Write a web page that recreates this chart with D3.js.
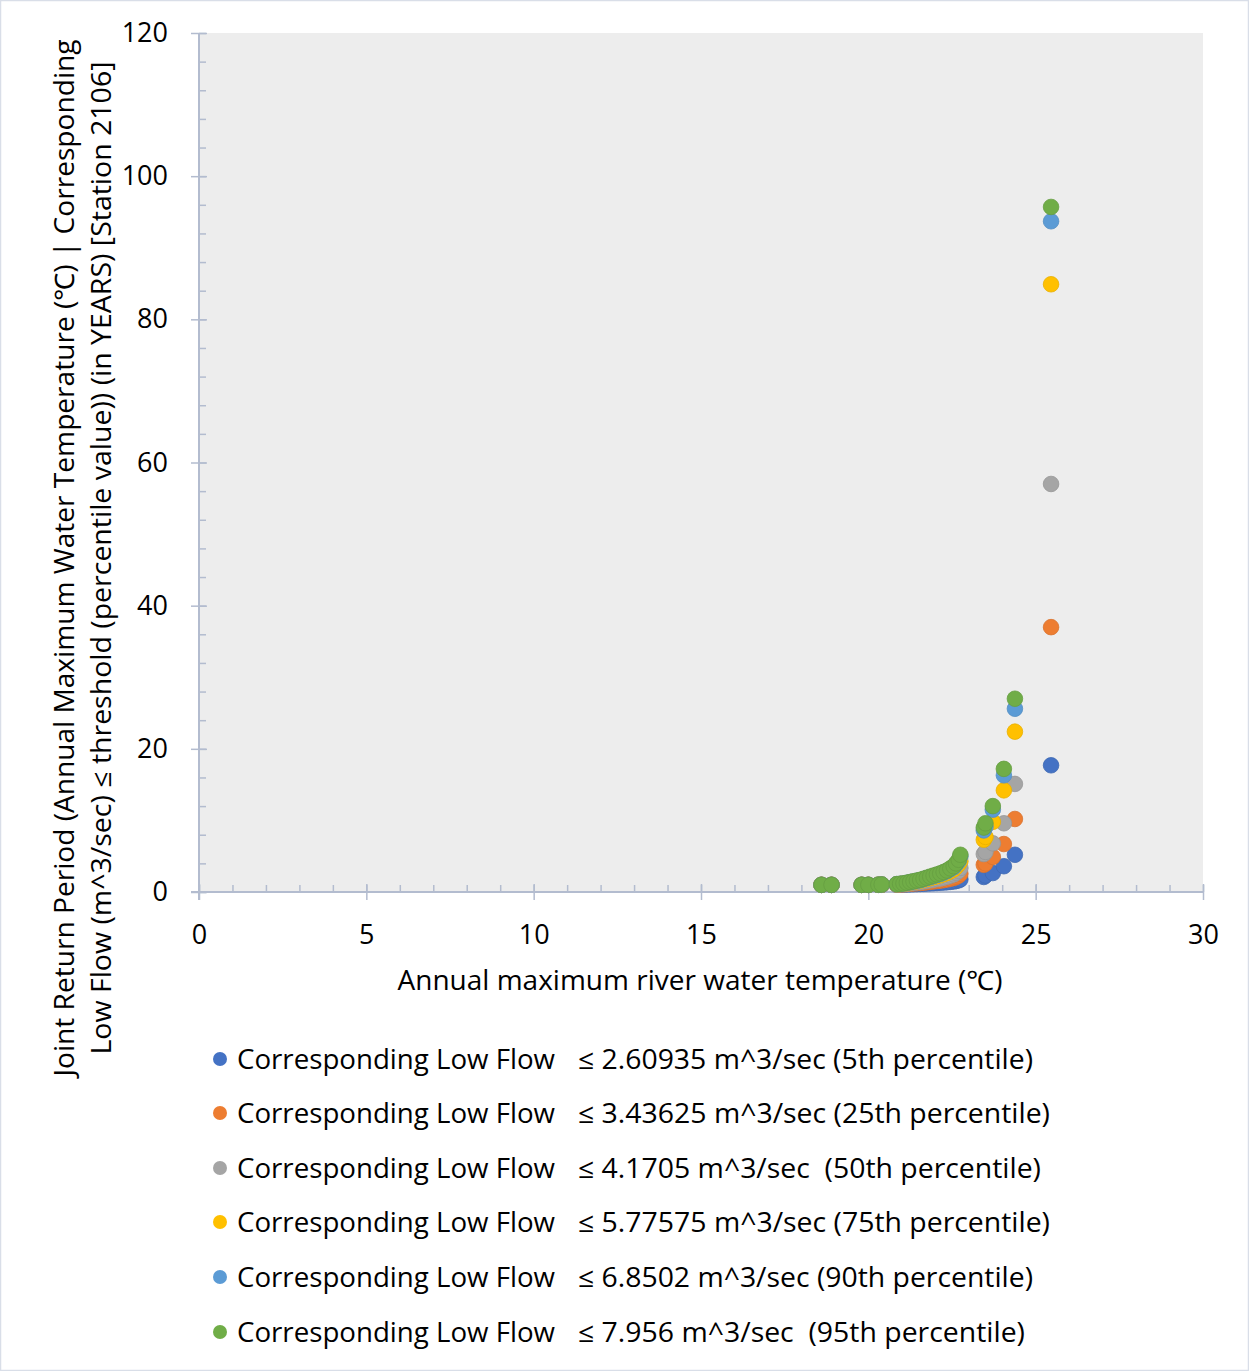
<!DOCTYPE html>
<html>
<head>
<meta charset="utf-8">
<script src="https://cdn.jsdelivr.net/npm/d3@7"></script>
<style>
  html, body { margin: 0; padding: 0; background: #fff; }
  svg { display: block; }
  text { font-family: "Open Sans", "Noto Sans", sans-serif; fill: #000; }
</style>
</head>
<body>
<svg id="chart" width="1249" height="1371"></svg>
<script>
// ---- data ----
const temps = [18.6, 18.9, 19.8, 20.0, 20.3, 20.4, 20.85, 20.95, 21.05, 21.15, 21.25, 21.35, 21.45, 21.55, 21.65, 21.75, 21.85, 21.95, 22.05, 22.15, 22.25, 22.35, 22.45, 22.55, 22.62, 22.7, 22.75, 23.45, 23.5, 23.72, 24.05, 24.38, 25.46];

const p5  = [1.0, 1.0, 1.0, 1.0, 1.0, 1.01, 1.02, 1.03, 1.04, 1.05, 1.07, 1.09, 1.11, 1.13, 1.15, 1.18, 1.21, 1.23, 1.26, 1.29, 1.32, 1.36, 1.41, 1.47, 1.54, 1.63, 1.76, 2.1, 2.3, 2.65, 3.6, 5.2, 17.7];
const p25 = [1.0, 1.0, 1.0, 1.0, 1.01, 1.02, 1.04, 1.06, 1.07, 1.11, 1.15, 1.19, 1.22, 1.26, 1.31, 1.37, 1.42, 1.48, 1.54, 1.59, 1.67, 1.74, 1.85, 1.96, 2.11, 2.3, 2.55, 3.8, 4.0, 4.9, 6.7, 10.2, 37.0];
const p50 = [1.0, 1.0, 1.0, 1.0, 1.01, 1.03, 1.06, 1.08, 1.11, 1.17, 1.22, 1.28, 1.34, 1.39, 1.48, 1.56, 1.64, 1.73, 1.81, 1.9, 2.0, 2.12, 2.29, 2.46, 2.68, 2.96, 3.35, 5.3, 5.6, 6.8, 9.6, 15.1, 57.0];
const p75 = [1.0, 1.0, 1.0, 1.0, 1.02, 1.04, 1.08, 1.12, 1.17, 1.25, 1.33, 1.42, 1.5, 1.58, 1.71, 1.83, 1.95, 2.08, 2.2, 2.33, 2.49, 2.66, 2.91, 3.16, 3.49, 3.9, 4.3, 7.3, 7.7, 9.8, 14.2, 22.4, 84.9];
const p90 = [1.0, 1.0, 1.0, 1.0, 1.02, 1.05, 1.1, 1.14, 1.19, 1.28, 1.38, 1.47, 1.57, 1.66, 1.81, 1.95, 2.09, 2.23, 2.38, 2.52, 2.71, 2.9, 3.18, 3.47, 3.85, 4.32, 4.99, 8.6, 9.1, 11.5, 16.3, 25.6, 93.7];
const p95 = [1.0, 1.0, 1.0, 1.0, 1.02, 1.05, 1.1, 1.15, 1.2, 1.3, 1.4, 1.5, 1.6, 1.7, 1.85, 2.0, 2.15, 2.3, 2.45, 2.6, 2.8, 3.0, 3.3, 3.6, 4.0, 4.5, 5.2, 9.0, 9.6, 12.0, 17.2, 27.0, 95.7];

const seriesNames = ["Corresponding Low Flow", "Corresponding Low Flow", "Corresponding Low Flow", "Corresponding Low Flow", "Corresponding Low Flow", "Corresponding Low Flow"];
const seriesThresholds = ["≤ 2.60935 m^3/sec (5th percentile)", "≤ 3.43625 m^3/sec (25th percentile)", "≤ 4.1705 m^3/sec  (50th percentile)", "≤ 5.77575 m^3/sec (75th percentile)", "≤ 6.8502 m^3/sec (90th percentile)", "≤ 7.956 m^3/sec  (95th percentile)"];
const seriesColors = ["#4472C4", "#ED7D31", "#A5A5A5", "#FFC000", "#5B9BD5", "#70AD47"];
const seriesValues = [p5, p25, p50, p75, p90, p95];

const xTicks = [0, 5, 10, 15, 20, 25, 30];
const xMinorTicks = d3.range(0, 31, 1);
const yTicks = [0, 20, 40, 60, 80, 100, 120];
const yMinorTicks = d3.range(0, 121, 4);

const xTitle = "Annual maximum river water temperature (℃)";
const yTitle1 = "Joint Return Period (Annual Maximum Water Temperature (℃) | Corresponding";
const yTitle2 = "Low Flow (m^3/sec) ≤ threshold (percentile value)) (in YEARS) [Station 2106]";

// ---- layout ----
const svg = d3.select("#chart");
const W = 1249, H = 1371;
const L = 199, R = 1203, T = 33, B = 892;
const axisColor = "#b3bccf";

svg.append("rect").attr("x", 0.5).attr("y", 0.5).attr("width", W - 1).attr("height", H - 1)
  .attr("fill", "#fff").attr("stroke", "#d9dee8").attr("stroke-width", 1.5);

const x = d3.scaleLinear().domain([0, 30]).range([L, R]);
const y = d3.scaleLinear().domain([0, 120]).range([B, T]);

svg.append("rect").attr("x", L).attr("y", T).attr("width", R - L).attr("height", B - T).attr("fill", "#ededed");

// inner minor ticks
svg.append("g").attr("transform", `translate(${L},0)`)
  .call(d3.axisRight(y).tickValues(yMinorTicks).tickSize(7).tickFormat(""));
svg.append("g").attr("transform", `translate(0,${B})`)
  .call(d3.axisTop(x).tickValues(xMinorTicks).tickSize(7).tickFormat(""));
// outer major ticks with labels
const yAxis = svg.append("g").attr("transform", `translate(${L},0)`)
  .call(d3.axisLeft(y).tickValues(yTicks).tickSize(8).tickPadding(23).tickFormat(d3.format("d")));
const xAxis = svg.append("g").attr("transform", `translate(0,${B})`)
  .call(d3.axisBottom(x).tickValues(xTicks).tickSize(8).tickPadding(25).tickFormat(d3.format("d")));
// major inside part
svg.append("g").attr("transform", `translate(${L},0)`)
  .call(d3.axisRight(y).tickValues(yTicks).tickSize(8).tickFormat(""));
svg.append("g").attr("transform", `translate(0,${B})`)
  .call(d3.axisTop(x).tickValues(xTicks).tickSize(8).tickFormat(""));

svg.selectAll(".domain").remove();
svg.selectAll(".tick line").attr("stroke", axisColor).attr("stroke-width", 1.5);
// axis lines
svg.append("line").attr("x1", L).attr("x2", L).attr("y1", T).attr("y2", B + 8).attr("stroke", axisColor).attr("stroke-width", 2);
svg.append("line").attr("x1", L - 8).attr("x2", R).attr("y1", B).attr("y2", B).attr("stroke", axisColor).attr("stroke-width", 2);

yAxis.selectAll("text").attr("font-size", 27).attr("fill", "#000").attr("font-family", "Open Sans");
xAxis.selectAll("text").attr("font-size", 27).attr("fill", "#000").attr("font-family", "Open Sans");

// ---- points ----
const radius = 7.8;
seriesValues.forEach((vals, si) => {
  const pts = temps.map((t, i) => ({ t, v: vals[i] }));
  svg.append("g").selectAll("circle").data(pts).join("circle")
    .attr("cx", d => x(d.t)).attr("cy", d => y(d.v)).attr("r", radius)
    .attr("fill", seriesColors[si])
    .attr("stroke", d3.color(seriesColors[si]).darker(0.25))
    .attr("stroke-width", 0.8);
});

// ---- titles ----
svg.append("text").attr("x", 700).attr("y", 990).attr("text-anchor", "middle")
  .attr("font-size", 27).attr("textLength", 605).attr("lengthAdjust", "spacingAndGlyphs").text(xTitle);

svg.append("text").attr("transform", "translate(74,558) rotate(-90)")
  .attr("text-anchor", "middle").attr("font-size", 27)
  .attr("textLength", 1037).attr("lengthAdjust", "spacingAndGlyphs").text(yTitle1);
svg.append("text").attr("transform", "translate(111,558) rotate(-90)")
  .attr("text-anchor", "middle").attr("font-size", 27)
  .attr("textLength", 993).attr("lengthAdjust", "spacingAndGlyphs").text(yTitle2);

// ---- legend ----
const legendY = [1059, 1113, 1168, 1222, 1277, 1332];
const legendEnds = [1033, 1050, 1041, 1050, 1033, 1025];
const lg = svg.append("g");
seriesColors.forEach((c, i) => {
  lg.append("circle").attr("cx", 220).attr("cy", legendY[i]).attr("r", 7).attr("fill", c);
  lg.append("text").attr("x", 237).attr("y", legendY[i] + 10).attr("font-size", 27)
    .attr("textLength", 318).attr("lengthAdjust", "spacingAndGlyphs").text(seriesNames[i]);
  lg.append("text").attr("x", 578).attr("y", legendY[i] + 10).attr("font-size", 27)
    .style("white-space", "pre")
    .attr("textLength", legendEnds[i] - 578).attr("lengthAdjust", "spacingAndGlyphs").text(seriesThresholds[i]);
});
</script>
</body>
</html>
